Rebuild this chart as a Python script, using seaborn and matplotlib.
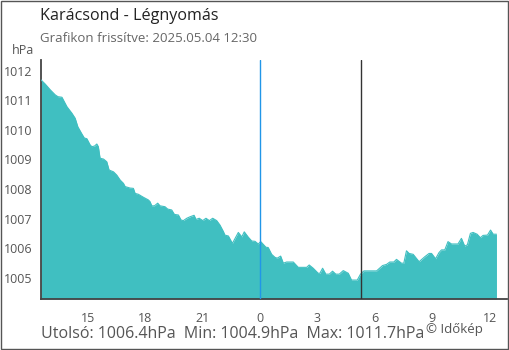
import matplotlib
matplotlib.use("Agg")
import matplotlib.pyplot as plt
from matplotlib.patches import Rectangle
import seaborn as sns
import pandas as pd

# hours relative to midnight of 2025.05.04 (negative = previous day)
hours = [-11.44, -11.22, -10.95, -10.69, -10.55, -10.34, -10.26, -10.08, -9.82, -9.65,
         -9.51, -9.30, -9.17, -9.04, -8.87, -8.78, -8.64, -8.52, -8.44, -8.35,
         -8.17, -8.00, -7.88, -7.65, -7.48, -7.30, -7.13, -7.04, -6.78, -6.61,
         -6.52, -6.35, -6.09, -5.83, -5.74, -5.65, -5.51, -5.34, -5.22, -4.96,
         -4.82, -4.61, -4.47, -4.26, -4.12, -4.00, -3.82, -3.65, -3.44, -3.34,
         -3.17, -2.99, -2.82, -2.64, -2.47, -2.26, -2.09, -1.91, -1.83, -1.65,
         -1.44, -1.30, -1.13, -0.95, -0.82, -0.61, -0.43, -0.26, -0.09, 0.04,
         0.17, 0.31, 0.43, 0.61, 0.78, 0.90, 1.08, 1.22, 1.39, 1.74,
         2.00, 2.44, 2.57, 2.78, 3.04, 3.13, 3.27, 3.44, 3.62, 3.79,
         3.96, 4.14, 4.35, 4.61, 4.78, 5.08, 5.25, 5.43, 6.09, 6.40,
         6.61, 6.78, 6.99, 7.13, 7.39, 7.51, 7.65, 7.79, 8.00, 8.31,
         8.61, 8.83, 8.96, 9.17, 9.35, 9.48, 9.65, 9.82, 10.00, 10.34,
         10.52, 10.69, 10.83, 10.99, 11.13, 11.34, 11.51, 11.65, 11.88, 12.04,
         12.18, 12.35]
pressure = [1011.69, 1011.55, 1011.35, 1011.18, 1011.12, 1011.10, 1011.00, 1010.78, 1010.56, 1010.39,
            1010.10, 1009.86, 1009.72, 1009.70, 1009.49, 1009.43, 1009.45, 1009.52, 1009.43, 1009.04,
            1009.01, 1008.92, 1008.64, 1008.58, 1008.47, 1008.30, 1008.19, 1008.08, 1008.03, 1008.02,
            1007.85, 1007.82, 1007.72, 1007.63, 1007.57, 1007.43, 1007.43, 1007.52, 1007.43, 1007.40,
            1007.32, 1007.29, 1007.14, 1007.12, 1006.95, 1006.93, 1007.01, 1007.06, 1007.11, 1006.97,
            1007.01, 1006.93, 1007.01, 1006.93, 1007.01, 1006.93, 1006.78, 1006.56, 1006.44, 1006.41,
            1006.16, 1006.33, 1006.53, 1006.38, 1006.55, 1006.37, 1006.24, 1006.23, 1006.14, 1006.22,
            1006.13, 1006.03, 1006.02, 1005.79, 1005.69, 1005.66, 1005.73, 1005.49, 1005.53, 1005.53,
            1005.35, 1005.35, 1005.43, 1005.32, 1005.15, 1005.15, 1005.32, 1005.12, 1005.12, 1005.22,
            1005.12, 1005.12, 1005.24, 1005.15, 1004.92, 1004.92, 1005.12, 1005.23, 1005.23, 1005.41,
            1005.45, 1005.53, 1005.53, 1005.62, 1005.49, 1005.49, 1005.91, 1005.82, 1005.79, 1005.54,
            1005.71, 1005.82, 1005.82, 1005.64, 1005.85, 1005.94, 1005.94, 1006.22, 1006.14, 1006.14,
            1006.33, 1006.07, 1006.11, 1006.50, 1006.53, 1006.47, 1006.35, 1006.43, 1006.44, 1006.61,
            1006.47, 1006.47]

x_tick_pos = [-11.45, -9, -6, -3, 0, 3, 6, 9, 12]
x_tick_labels = ["", "15", "18", "21", "0", "3", "6", "9", "12"]
y_ticks = [1005, 1006, 1007, 1008, 1009, 1010, 1011, 1012]
last_val, min_val, max_val = 1006.4, 1004.9, 1011.7
midnight_hour = 0.0
marker_hour = 5.25

title = "Karácsond - Légnyomás"
subtitle = "Grafikon frissítve: 2025.05.04 12:30"

FILL = "#40bfc1"
BLUE = "#2196e8"
DARK = "#444444"

sns.set_theme(style="white")
plt.rcParams['font.family'] = ['Open Sans', 'DejaVu Sans']

W, H = 510, 350
fig = plt.figure(figsize=(W / 100, H / 100), dpi=100)
ax = fig.add_axes([40.7 / W, 1 - 299 / H, (507 - 40.7) / W, (299 - 60) / H])

df = pd.DataFrame({"hour": hours, "hPa": pressure})
ymin, ymax = 1004.28, 1012.36
ax.fill_between(df["hour"], df["hPa"], ymin, color=FILL, lw=0, zorder=2)
sns.lineplot(data=df, x="hour", y="hPa", ax=ax, color=FILL, lw=0.8, zorder=3)

ax.axvline(midnight_hour, color=BLUE, lw=1, zorder=4)
ax.axvline(marker_hour, color="#333333", lw=1, zorder=4)

ax.set_xlim(-11.45, 12.9)
ax.set_ylim(ymin, ymax)
ax.set_xlabel("")
ax.set_ylabel("")

ax.set_xticks(x_tick_pos)
ax.set_xticklabels(x_tick_labels)
ax.set_yticks(y_ticks)
ax.set_yticklabels([str(v) for v in y_ticks])

for s in ["top", "right"]:
    ax.spines[s].set_visible(False)
for s in ["left", "bottom"]:
    ax.spines[s].set_color(DARK)
    ax.spines[s].set_linewidth(1.3)

ax.tick_params(axis="y", direction="out", length=4.2, width=1, color=DARK,
               labelsize=9, labelcolor="#555555", pad=1.5)
ax.tick_params(axis="x", direction="out", length=4.5, width=1, color=DARK,
               labelsize=9, labelcolor="#555555", pad=4.5)
ax.xaxis.get_major_ticks()[4].tick1line.set_color(BLUE)

fig.text(40 / W, 1 - 8 / H, title, fontsize=11.6, color="#222222", va="top", ha="left")
fig.text(40 / W, 1 - 32 / H, subtitle, fontsize=9.5, color="#666666", va="top", ha="left")
fig.text(12 / W, 1 - 50 / H, "hPa", fontsize=9, color="#555555", va="center", ha="left")

bottom = f"Utolsó: {last_val}hPa  Min: {min_val}hPa  Max: {max_val}hPa"
fig.text(41 / W, 1 - 334 / H, bottom, fontsize=11.5, color="#555555", va="center", ha="left")
fig.text(426 / W, 1 - 330 / H, "© Időkép", fontsize=9.5, color="#555555", va="center", ha="left")

fig.add_artist(Rectangle((0.5 / W, 1.5 / H), 508 / W, 348 / H, transform=fig.transFigure,
                         fill=False, edgecolor="#555555", lw=1))

fig.savefig("out.png", dpi=100)
